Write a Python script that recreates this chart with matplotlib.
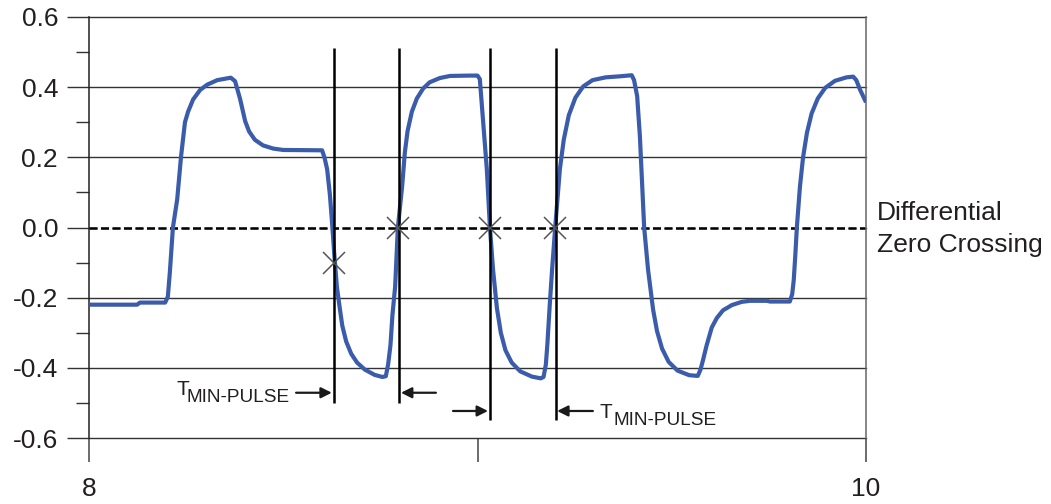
import matplotlib
matplotlib.use("Agg")
import matplotlib.pyplot as plt
from matplotlib.ticker import FixedLocator

plt.rcParams['font.family'] = ['Liberation Sans', 'DejaVu Sans']

# ---- data ----
wave_t = [8.000, 8.124, 8.131, 8.196, 8.203, 8.208, 8.216, 8.227, 8.237, 8.247,
          8.255, 8.268, 8.286, 8.304, 8.330, 8.350, 8.365, 8.376, 8.389, 8.402,
          8.412, 8.427, 8.448, 8.474, 8.500, 8.600, 8.606, 8.613, 8.620, 8.625,
          8.631, 8.638, 8.646, 8.652, 8.662, 8.675, 8.690, 8.710, 8.735, 8.755,
          8.764, 8.770, 8.776, 8.781, 8.788, 8.795, 8.806, 8.813, 8.820, 8.831,
          8.844, 8.860, 8.877, 8.903, 8.929, 8.980, 9.000, 9.006, 9.014, 9.024,
          9.032, 9.040, 9.050, 9.060, 9.072, 9.088, 9.110, 9.140, 9.163, 9.170,
          9.176, 9.180, 9.186, 9.192, 9.200, 9.212, 9.222, 9.235, 9.252, 9.272,
          9.296, 9.330, 9.367, 9.397, 9.403, 9.411, 9.418, 9.429, 9.439, 9.452,
          9.462, 9.475, 9.492, 9.515, 9.545, 9.567, 9.574, 9.580, 9.590, 9.603,
          9.616, 9.632, 9.655, 9.680, 9.701, 9.745, 9.753, 9.804, 9.810, 9.814,
          9.818, 9.822, 9.830, 9.838, 9.848, 9.860, 9.876, 9.895, 9.920, 9.950,
          9.967, 9.975, 9.985, 10.000]
wave_v = [-0.220, -0.220, -0.214, -0.214, -0.197, -0.129, 0.000, 0.080, 0.203, 0.300,
          0.330, 0.365, 0.392, 0.407, 0.420, 0.424, 0.427, 0.417, 0.366, 0.303,
          0.274, 0.250, 0.234, 0.225, 0.221, 0.220, 0.200, 0.166, 0.094, 0.023,
          -0.071, -0.169, -0.234, -0.280, -0.325, -0.360, -0.385, -0.405, -0.420, -0.426,
          -0.424, -0.390, -0.335, -0.250, -0.169, 0.000, 0.117, 0.214, 0.275, 0.330,
          0.368, 0.396, 0.414, 0.426, 0.432, 0.433, 0.433, 0.423, 0.309, 0.166,
          0.000, -0.120, -0.230, -0.300, -0.350, -0.385, -0.410, -0.425, -0.430, -0.426,
          -0.390, -0.330, -0.220, -0.120, 0.000, 0.166, 0.250, 0.320, 0.370, 0.402,
          0.420, 0.428, 0.431, 0.434, 0.420, 0.374, 0.260, 0.000, -0.120, -0.234,
          -0.295, -0.345, -0.383, -0.408, -0.421, -0.423, -0.405, -0.380, -0.335, -0.285,
          -0.258, -0.236, -0.221, -0.212, -0.209, -0.209, -0.211, -0.211, -0.190, -0.150,
          -0.080, 0.000, 0.117, 0.200, 0.270, 0.325, 0.368, 0.398, 0.418, 0.428,
          0.430, 0.420, 0.392, 0.357]

cross_t = [8.631, 8.795, 9.032, 9.200]
cross_v = [-0.10, 0.00, 0.00, 0.00]

marker_lines_t = [8.631, 8.798, 9.032, 9.202]
marker_lines_top = [0.511, 0.511, 0.511, 0.511]
marker_lines_bottom = [-0.500, -0.500, -0.549, -0.549]

arrow_start = [8.533, 8.893, 8.937, 9.297]
arrow_end = [8.625, 8.803, 9.027, 9.205]
arrow_y = [-0.471, -0.471, -0.523, -0.523]

label_main = "T"
label_sub = "MIN-PULSE"
label_pos = [(8.224, -0.477, 8.252, -0.497), (9.315, -0.543, 9.349, -0.563)]

x_ticks = [8, 9, 10]
x_tick_labels = ["8", "", "10"]
y_ticks = [-0.6, -0.4, -0.2, 0.0, 0.2, 0.4, 0.6]
y_tick_labels = ["-0.6", "-0.4", "-0.2", "0.0", "0.2", "0.4", "0.6"]

zero_label = ["Differential", "Zero Crossing"]

# ---- figure ----
fig = plt.figure(figsize=(10.51, 5.04), dpi=100)
ax = fig.add_axes([89/1051, 1-438/504, (866-89)/1051, (438-17)/504])
ax.set_xlim(8, 10)
ax.set_ylim(-0.6, 0.6)

txt_color = '#231f20'
grid_color = '#333333'

for s in ['top', 'bottom']:
    ax.spines[s].set_visible(False)
ax.spines['left'].set_color('#222222')
ax.spines['left'].set_linewidth(1.1)
ax.spines['right'].set_color('#666666')
ax.spines['right'].set_linewidth(1.1)

ax.set_yticks(y_ticks)
ax.set_yticklabels(y_tick_labels)
ax.yaxis.set_minor_locator(FixedLocator([-0.5, -0.3, -0.1, 0.1, 0.3, 0.5]))
ax.tick_params(axis='y', which='major', direction='out', length=15.8, width=1.0,
               color=grid_color, labelsize=19, labelcolor=txt_color, pad=6.5)
ax.tick_params(axis='y', which='minor', direction='out', length=9.4, width=1.0,
               color=grid_color)

ax.set_xticks(x_ticks)
ax.set_xticklabels(x_tick_labels)
ax.tick_params(axis='x', which='major', direction='out', length=17.3, width=1.1,
               color='#444444', labelsize=19, labelcolor=txt_color, pad=11)

ax.yaxis.grid(True, which='major', color=grid_color, linewidth=1.0)
for gl in ax.get_ygridlines():
    gl.set_clip_on(False)

# zero-crossing dashed reference
ax.axhline(0.0, color='black', linewidth=1.8, linestyle=(0, (3.2, 1.4)),
           gapcolor='white', zorder=2.5)

# waveform
ax.plot(wave_t, wave_v, color='#3B5CAA', linewidth=3.0, zorder=3,
        solid_joinstyle='round', solid_capstyle='butt')

# vertical marker lines
ax.vlines(marker_lines_t, marker_lines_bottom, marker_lines_top, color='black',
          linewidth=1.8, zorder=4, clip_on=False)

# crossing markers
ax.plot(cross_t, cross_v, linestyle='none', marker='x', markersize=16,
        markeredgewidth=1.1, color='#555555', zorder=5)

# arrows
for xs, xe, ya in zip(arrow_start, arrow_end, arrow_y):
    ax.annotate('', xy=(xe, ya), xytext=(xs, ya),
                arrowprops=dict(arrowstyle='-|>', color='#1a1a1a', lw=1.6,
                                mutation_scale=16, shrinkA=0, shrinkB=0),
                annotation_clip=False)

for tx, ty, sx, sy in label_pos:
    ax.text(tx, ty, label_main, fontsize=15, color=txt_color, ha='left', va='baseline')
    ax.text(sx, sy, label_sub, fontsize=13.7, color=txt_color, ha='left', va='baseline')

ax.text(10.028, 0.020, zero_label[0], fontsize=19, color=txt_color,
        ha='left', va='baseline', clip_on=False)
ax.text(10.028, -0.069, zero_label[1], fontsize=19, color=txt_color,
        ha='left', va='baseline', clip_on=False)

fig.savefig('out.png', dpi=100)
